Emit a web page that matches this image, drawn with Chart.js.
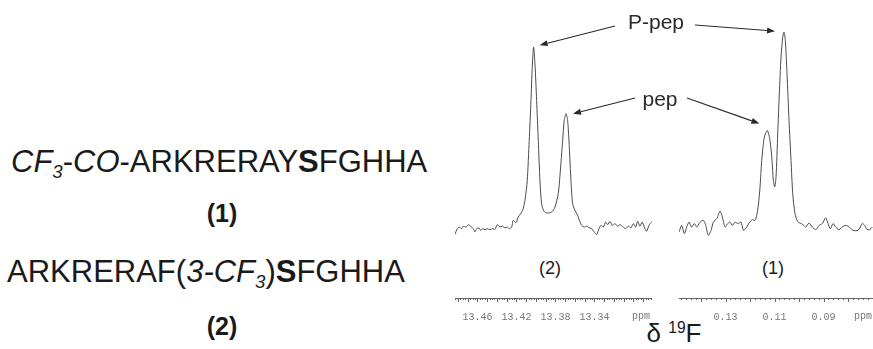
<!DOCTYPE html>
<html>
<head>
<meta charset="utf-8">
<script src="https://cdn.jsdelivr.net/npm/chart.js@4.4.1/dist/chart.umd.min.js"></script>
<style>
  html,body{margin:0;padding:0;background:#fff;width:873px;height:349px;overflow:hidden;}
  body{position:relative;font-family:"Liberation Sans",Arial,sans-serif;color:#1a1a1a;}
  .abs{position:absolute;white-space:nowrap;}
  .seq{font-size:31px;line-height:34px;}
  .seq i{font-style:italic;}
  .seq sub{font-size:0.6em;vertical-align:-0.3em;line-height:0;}
  .num{font-size:25px;font-weight:bold;line-height:30px;transform:translateX(-50%);}
  .slab{font-size:18px;line-height:20px;transform:translateX(-50%);}
  .delta{font-size:26px;line-height:30px;transform:translateX(-50%);}
  .delta sup{font-size:0.6em;vertical-align:0.55em;line-height:0;}
  canvas{position:absolute;}
</style>
</head>
<body>
<div class="abs seq" style="left:11px;top:145px;"><i>CF<sub>3</sub></i>-<i>CO</i>-ARKRERAY<b>S</b>FGHHA</div>
<div class="abs num" style="left:222px;top:198px;">(1)</div>
<div class="abs seq" style="left:7px;top:255px;">ARKRERAF(<i>3-CF<sub>3</sub></i>)<b>S</b>FGHHA</div>
<div class="abs num" style="left:222px;top:311px;">(2)</div>

<div class="abs slab" style="left:550px;top:258px;">(2)</div>
<div class="abs slab" style="left:773px;top:258px;">(1)</div>
<div class="abs delta" style="left:674px;top:318px;">δ <sup>19</sup>F</div>

<canvas id="c2" width="197" height="349" style="left:455px;top:0;"></canvas>
<canvas id="c1" width="194" height="349" style="left:679px;top:0;"></canvas>
<canvas id="ov" width="873" height="349" style="left:0;top:0;pointer-events:none;"></canvas>

<script>
// Spectrum (2): 3-CF3-Phe peptide, 19F shift (ppm) and relative intensity
const ppm2 = [13.4831,13.4807,13.4787,13.4762,13.4746,13.4718,13.4694,13.4670,13.4643,13.4626,
  13.4608,13.4582,13.4567,13.4547,13.4523,13.4499,13.4472,13.4444,13.4421,13.4397,
  13.4369,13.4342,13.4318,13.4294,13.4274,13.4249,13.4233,13.4205,13.4182,13.4157,
  13.4136,13.4123,13.4110,13.4089,13.4069,13.4051,13.4038,13.4024,13.4010,13.3993,
  13.3976,13.3959,13.3942,13.3918,13.3890,13.3839,13.3805,13.3771,13.3747,13.3726,
  13.3710,13.3692,13.3675,13.3658,13.3641,13.3624,13.3600,13.3572,13.3559,13.3531,
  13.3505,13.3480,13.3456,13.3429,13.3402,13.3377,13.3354,13.3333,13.3310,13.3285,
  13.3265,13.3241,13.3217,13.3190,13.3162,13.3138,13.3105,13.3080,13.3053,13.3026,
  13.3002,13.2977,13.2957,13.2933,13.2910,13.2889,13.2865,13.2841,13.2813,13.2793];
const int2 = [-2.3,0.9,1.8,0.9,2.3,1.8,3.1,2.3,0.9,-0.9,
  0.9,1.3,0,0.9,0.4,0.9,0.4,0.9,0.5,3.1,
  1.8,2.3,1.3,1.8,0.9,1.8,5.5,4.2,7.3,9.1,
  10.9,13.7,17.3,27.3,49.2,71.0,89.2,100.2,91.1,71.0,
  49.2,27.3,14.6,10.5,9.5,10.0,12.7,20.1,34.6,49.2,
  60.1,63.8,60.1,45.5,27.3,14.6,10.9,8.2,6.0,2.7,
  1.8,2.3,1.5,0.9,-0.9,-2.3,0.9,2.7,1.8,4.5,
  3.1,4.9,2.7,3.7,2.3,3.1,1.8,0.9,2.3,1.3,
  3.7,1.8,4.9,2.3,4.5,1.8,-0.5,2.7,4.5,4.2];

// Spectrum (1): CF3-CO peptide
const ppm1 = [0.14898,0.14788,0.14682,0.14584,0.14490,0.14380,0.14273,0.14176,0.14041,0.13906,
  0.13808,0.13702,0.13592,0.13498,0.13359,0.13224,0.13131,0.13020,0.12910,0.12816,
  0.12722,0.12612,0.12502,0.12367,0.12273,0.12135,0.12041,0.11906,0.11796,0.11727,
  0.11661,0.11592,0.11522,0.11416,0.11294,0.11184,0.11102,0.11049,0.10992,0.10939,
  0.10869,0.10804,0.10735,0.10665,0.10612,0.10559,0.10490,0.10408,0.10327,0.10257,
  0.10163,0.10041,0.09906,0.09808,0.09727,0.09592,0.09457,0.09318,0.09184,0.09049,
  0.08910,0.08816,0.08722,0.08612,0.08502,0.08367,0.08204,0.08069,0.07931,0.07796,
  0.07592,0.07416,0.07318,0.07224,0.07114,0.07008];
const int1 = [-0.9,2.7,-1.8,1.8,4.5,1.8,3.7,1.8,4.5,5.5,
  2.7,-2.7,0,4.5,6.4,10.5,7.3,1.8,3.7,4.5,
  2.7,4.5,3.7,4.5,0,1.8,4.0,5.8,5.5,8.2,
  13.7,23.7,38.3,51.0,54.6,49.2,38.3,27.3,23.7,29.1,
  52.8,74.7,94.7,105.6,108.4,103.8,85.6,60.1,38.3,20.1,
  9.1,4.5,3.7,2.7,1.8,4.0,1.8,0.4,2.7,3.7,
  6.9,3.7,0.9,3.7,1.8,0.4,2.2,2.7,1.5,0,
  0,3.7,2.7,0.4,0.4,1.8];

const tickVals2 = [13.46, 13.42, 13.38, 13.34];
const tickVals1 = [0.13, 0.11, 0.09];
const peakLabels = ["P-pep", "pep"];
const unitLabel = "ppm";

const INK = '#2a2a2a';

function axisExtras(step, longEvery, unitOffset) {
  return {
    id: 'axisExtras',
    afterDraw(chart) {
      const s = chart.scales.x, ctx = chart.ctx;
      const lo = Math.min(s.min, s.max), hi = Math.max(s.min, s.max);
      ctx.save();
      ctx.strokeStyle = '#666';
      ctx.lineWidth = 1;
      const i0 = Math.ceil(lo / step - 1e-6), i1 = Math.floor(hi / step + 1e-6);
      for (let i = i0; i <= i1; i++) {
        const px = Math.round(s.getPixelForValue(i * step)) + 0.5;
        const len = (i % longEvery === 0) ? 4 : 2;
        ctx.beginPath();
        ctx.moveTo(px, s.top);
        ctx.lineTo(px, s.top + len);
        ctx.stroke();
      }
      ctx.fillStyle = '#777';
      ctx.font = '10px "Liberation Mono", monospace';
      ctx.textAlign = 'center';
      ctx.textBaseline = 'top';
      ctx.fillText(unitLabel, s.right - unitOffset, s.top + 13);
      ctx.restore();
    }
  };
}

function makeChart(id, ppm, inten, xmin, xmax, tickVals, step, longEvery, unitOffset) {
  return new Chart(document.getElementById(id), {
    type: 'scatter',
    data: { datasets: [{
      data: ppm.map((x, i) => ({ x: x, y: inten[i] })),
      showLine: true, pointRadius: 0, pointHoverRadius: 0, borderWidth: 1, borderColor: '#4a4a4a',
      tension: 0.25, fill: false
    }]},
    options: {
      responsive: false, animation: false, devicePixelRatio: 1,
      layout: { padding: 0, autoPadding: false },
      plugins: { legend: { display: false }, tooltip: { enabled: false } },
      scales: {
        x: {
          type: 'linear', reverse: true, min: xmin, max: xmax,
          afterBuildTicks(s) { s.ticks = tickVals.map(v => ({ value: v })); },
          afterFit(s) { s.height = 51; s.paddingLeft = 0; s.paddingRight = 0; },
          grid: { display: false, drawTicks: false },
          border: { display: true, color: '#666', width: 1 },
          ticks: {
            autoSkip: false, maxRotation: 0, padding: 13, color: '#777',
            font: { family: 'Liberation Mono', size: 10 },
            callback: v => Number(v).toFixed(2)
          }
        },
        y: { display: false, min: -37, max: 126 }
      }
    },
    plugins: [axisExtras(step, longEvery, unitOffset)]
  });
}

const chart2 = makeChart('c2', ppm2, int2, 13.281, 13.483, tickVals2, 0.0025, 4, 11);
const chart1 = makeChart('c1', ppm1, int1, 0.0698, 0.149, tickVals1, 0.002, 5, 10);

// locate peaks from the data
function peakIdx(ppm, inten, test) {
  let best = -1;
  for (let i = 0; i < ppm.length; i++) if (test(ppm[i]) && (best < 0 || inten[i] > inten[best])) best = i;
  return best;
}
function peakPx(chart, canvasLeft, ppm, inten, idx) {
  return { x: canvasLeft + chart.scales.x.getPixelForValue(ppm[idx]), y: chart.scales.y.getPixelForValue(inten[idx]) };
}
const p2P = peakPx(chart2, 455, ppm2, int2, peakIdx(ppm2, int2, () => true));
const p2p = peakPx(chart2, 455, ppm2, int2, peakIdx(ppm2, int2, v => v < 13.385));
const p1P = peakPx(chart1, 679, ppm1, int1, peakIdx(ppm1, int1, () => true));
const p1p = peakPx(chart1, 679, ppm1, int1, peakIdx(ppm1, int1, v => v > 0.110));

const ov = document.getElementById('ov').getContext('2d');
function arrow(x0, y0, x1, y1) {
  ov.save();
  ov.strokeStyle = INK; ov.fillStyle = INK; ov.lineWidth = 1.1;
  const a = Math.atan2(y1 - y0, x1 - x0), L = 8, W = 3;
  const bx = x1 - L * Math.cos(a), by = y1 - L * Math.sin(a);
  ov.beginPath(); ov.moveTo(x0, y0); ov.lineTo(bx, by); ov.stroke();
  ov.beginPath();
  ov.moveTo(x1, y1);
  ov.lineTo(bx + W * Math.sin(a), by - W * Math.cos(a));
  ov.lineTo(bx - W * Math.sin(a), by + W * Math.cos(a));
  ov.closePath(); ov.fill();
  ov.restore();
}
ov.font = '21px "Liberation Sans", Arial, sans-serif';
ov.fillStyle = INK;
ov.textAlign = 'center';
ov.textBaseline = 'middle';
ov.fillText(peakLabels[0], 656, 23);
ov.fillText(peakLabels[1], 660, 100);
arrow(615, 26, p2P.x + 6, p2P.y - 2);
arrow(695, 25, p1P.x - 9, p1P.y - 1);
arrow(635, 98, p2p.x + 7, p2p.y);
arrow(687, 98, p1p.x - 8, p1p.y - 7);
</script>
</body>
</html>
